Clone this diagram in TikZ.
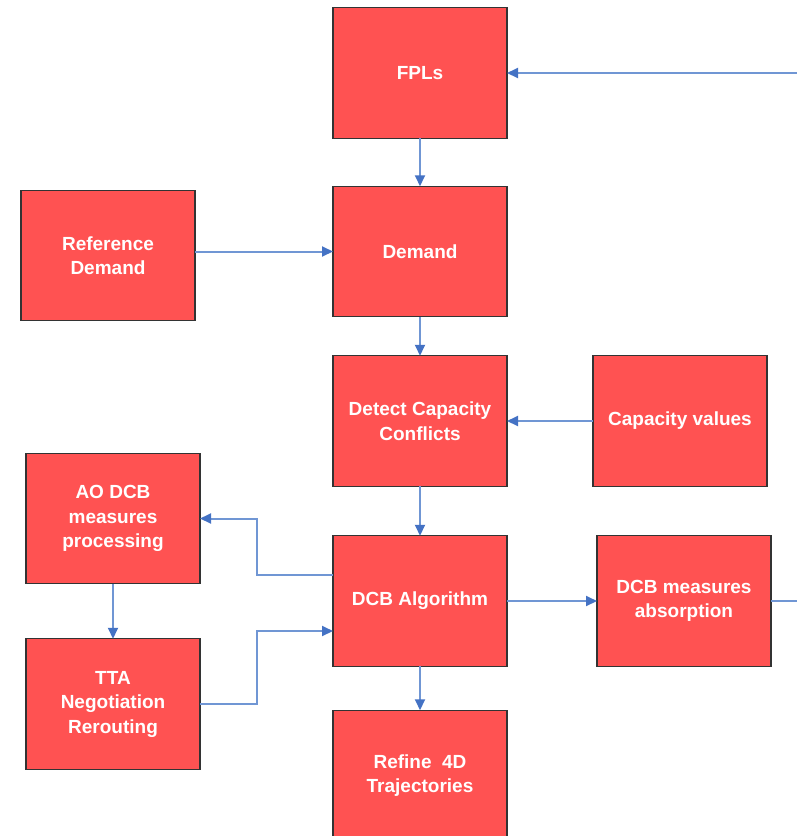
\documentclass[tikz,border=0pt]{standalone}
\usepackage{fontspec}
\setmainfont{Liberation Sans}
\usepackage{xcolor}
\usepackage{tikz}
\usetikzlibrary{arrows.meta, positioning}

\definecolor{boxred}{RGB}{255,82,82}
\definecolor{linkblue}{RGB}{112,150,212}
\definecolor{tipblue}{RGB}{68,114,196}

\begin{document}
\begin{tikzpicture}[
            x=1pt, y=1pt,
            >={Triangle[length=11pt,width=10pt,color=tipblue]},
            block/.style={rectangle, draw=black!80, line width=1.4pt, fill=boxred, text=white, font=\bfseries\fontsize{19}{24.5}\selectfont, align=center, minimum width=174pt, minimum height=130.5pt, inner sep=2pt, outer sep=0pt},
            link/.style={->, draw=linkblue, line width=2pt}
        ]
        \useasboundingbox (0,0) rectangle (797,-836);

        % Centre column
        \node[block] (fpls) at (420,-73) {FPLs};
        \node[block, below=48pt of fpls] (demand) {Demand};
        \node[block, below=39pt of demand] (detect) {Detect Capacity\\Conflicts};
        \node[block, below=49.5pt of detect] (dcb) {DCB Algorithm};
        \node[block, below=44pt of dcb] (refine) {Refine\ \ 4D\\Trajectories};

        % Side boxes
        \node[block] (refdemand) at (108,-255.5) {Reference\\Demand};
        \node[block, right=86pt of detect] (capacity) {Capacity values};
        \node[block] (aodcb) at (113,-518.5) {AO DCB\\measures\\processing};
        \node[block, below=55pt of aodcb] (tta) {TTA\\Negotiation\\Rerouting};
        \node[block, right=90pt of dcb] (absorption) {DCB measures\\absorption};

        \coordinate (fplsin) at (797,-72);
        \coordinate (absorpout) at (797,-598.5);

        \draw[link] (fpls) -- (demand);
        \draw[link] (refdemand.east |- demand.west) -- (demand.west);
        \draw[link] (demand) -- (detect);
        \draw[link] (capacity) -- (detect);
        \draw[link] (detect) -- (dcb);
        \draw[link] ([yshift=26pt]dcb.west) -- ++(-76,0) |- (aodcb.east);
        \draw[link] (aodcb) -- (tta);
        \draw[link] (tta.east) -- ++(57,0) |- ([yshift=-30pt]dcb.west);
        \draw[link] (dcb) -- (absorption);
        \draw[link] (dcb) -- (refine);
        \draw[link, -] (absorption.east) -- (absorption.east -| absorpout);
        \draw[link] (fpls.east -| fplsin) -- (fpls.east);
    \end{tikzpicture}
\end{document}
